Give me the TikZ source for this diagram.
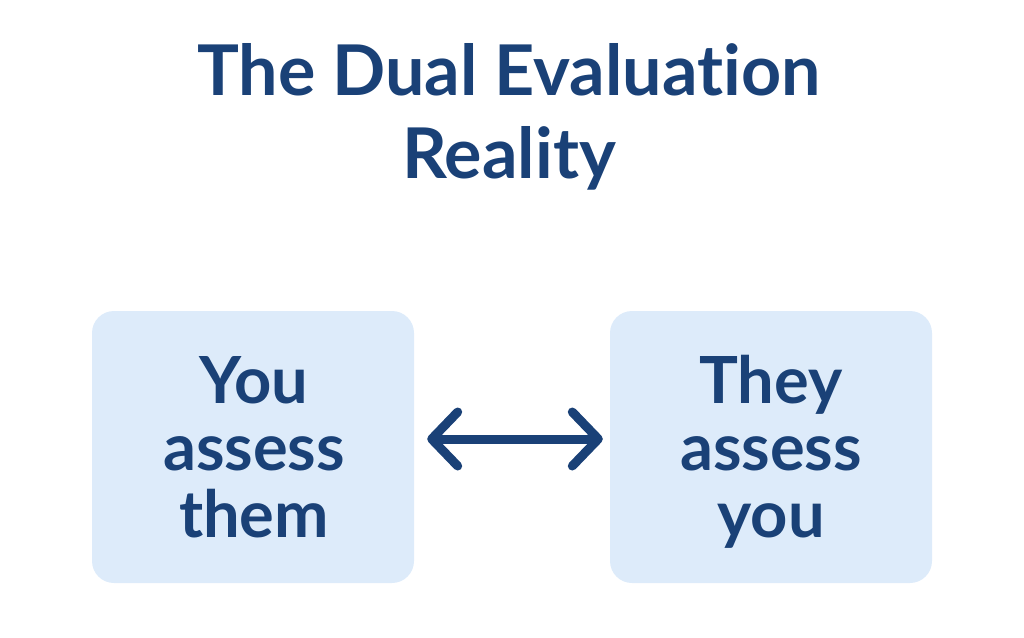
\documentclass[tikz,border=0pt]{standalone}
\usepackage{fontspec}
\setmainfont[Ligatures={NoCommon,NoRare}]{Lato}
\usetikzlibrary{arrows.meta}
\definecolor{ink}{HTML}{1A4177}
\definecolor{boxfill}{HTML}{DDEBFA}
\tikzset{
  card/.style={fill=boxfill, draw=none, rounded corners=22pt, minimum width=322pt, minimum height=272pt, inner sep=0pt},
  titletxt/.style={text=ink, font=\fontsize{70}{83}\selectfont\bfseries, inner sep=0pt, anchor=base},
  cardtxt/.style={text=ink, font=\fontsize{65}{67}\selectfont\bfseries, inner sep=0pt, anchor=base},
  link/.style={draw=ink, line width=9pt, line cap=round, line join=round,
    {Straight Barb[length=26pt,width=54pt,round]}-{Straight Barb[length=26pt,width=54pt,round]}}
}
\begin{document}
\begin{tikzpicture}[x=1pt,y=-1pt]
\useasboundingbox (0,0) rectangle (1024,637);
\node[titletxt] (t1) at (509,95) {The Dual Evaluation};
\node[titletxt] (t2) at (509,178) {Reality};
\node[card] (L) at (253,447) {};
\node[card] (R) at (771,447) {};
\node[cardtxt] (l1) at (254,403) {You};
\node[cardtxt] (l2) at (254,470) {assess};
\node[cardtxt] (l3) at (254,537) {them};
\node[cardtxt] (r1) at (771,403) {They};
\node[cardtxt] (r2) at (771,470) {assess};
\node[cardtxt] (r3) at (771,537) {you};
\draw[link] ([xshift=13pt,yshift=8pt]L.east) -- ([xshift=-7pt,yshift=8pt]R.west);
\end{tikzpicture}
\end{document}
